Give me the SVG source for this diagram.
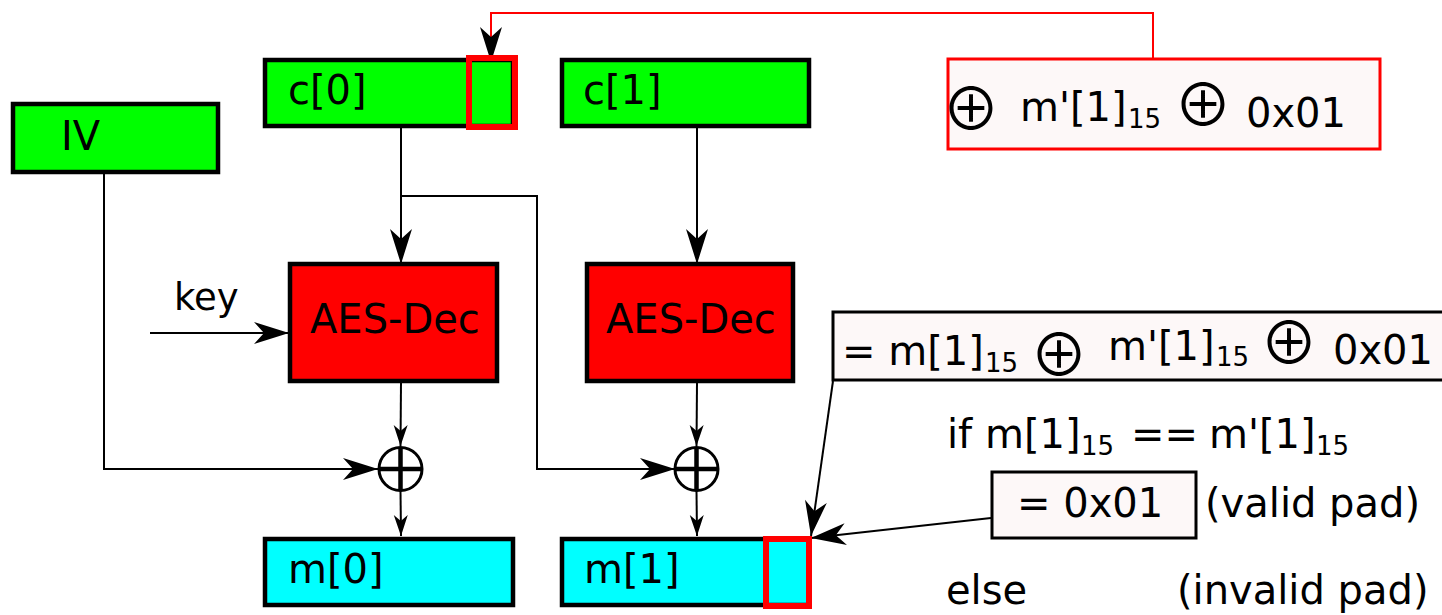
<svg xmlns="http://www.w3.org/2000/svg" width="1442" height="615" viewBox="0 0 1442 615">
  <style>
    text { font-family: "DejaVu Sans", "Liberation Sans", sans-serif; fill: #000; }
    .lbl { font-size: 40px; }
    .sub { font-size: 26px; }
    .op { font-family: "Noto Sans CJK SC", "DejaVu Sans", sans-serif; font-size: 58px; }
    .blk { stroke: #000; stroke-width: 4.5; }
    .green { fill: #00ff00; }
    .cyan { fill: #00ffff; }
    .aes { fill: #ff0000; }
    .mark { fill: none; stroke: #ff0000; stroke-width: 6; }
    .note { fill: #fdf8f8; stroke: #000; stroke-width: 3; }
    .wire { fill: none; stroke: #000; stroke-width: 2; }
    .redwire { fill: none; stroke: #ff0000; stroke-width: 2; }
  </style>
  <defs>
    <marker id="big" markerUnits="userSpaceOnUse" viewBox="-36 -12 38 24" refX="0" refY="0" markerWidth="38" markerHeight="24" orient="auto" overflow="visible">
      <path d="M0,0 L-35,-11 L-25,0 L-35,11 Z" fill="#000"/>
    </marker>
    <marker id="small" markerUnits="userSpaceOnUse" viewBox="-22 -8 24 16" refX="0" refY="0" markerWidth="24" markerHeight="16" orient="auto" overflow="visible">
      <path d="M0,0 L-21,-7 L-15,0 L-21,7 Z" fill="#000"/>
    </marker>
    <g id="xor">
      <circle cx="0" cy="0" r="21.5" fill="#fff" stroke="#000" stroke-width="3"/>
      <path d="M-21,0 H21 M0,-21 V21" stroke="#000" stroke-width="4.5"/>
    </g>
  </defs>

  <!-- connectors -->
  <g id="connectors">
    <polyline class="redwire" points="1153,58 1153,13 491,13 491,40"/>
    <line class="wire" x1="491" y1="40" x2="491" y2="62" marker-end="url(#big)"/>
    <line class="wire" x1="401" y1="128" x2="401" y2="264" marker-end="url(#big)"/>
    <polyline class="wire" points="401,196 537,196 537,469 675,469" marker-end="url(#big)"/>
    <polyline class="wire" points="104,174 104,469 378,469" marker-end="url(#big)"/>
    <line class="wire" x1="150" y1="333" x2="289" y2="333" marker-end="url(#big)"/>
    <line class="wire" x1="697" y1="128" x2="697" y2="264" marker-end="url(#big)"/>
    <line class="wire" x1="401" y1="382" x2="400.5" y2="446" marker-end="url(#small)"/>
    <line class="wire" x1="400.5" y1="491" x2="401" y2="536" marker-end="url(#small)"/>
    <line class="wire" x1="697" y1="382" x2="696.5" y2="446" marker-end="url(#small)"/>
    <line class="wire" x1="696.5" y1="491" x2="697" y2="536" marker-end="url(#small)"/>
    <line class="wire" x1="833" y1="381" x2="811" y2="536" marker-end="url(#big)"/>
    <line class="wire" x1="991" y1="518" x2="811" y2="538" marker-end="url(#big)"/>
  </g>

  <!-- ciphertext / IV blocks -->
  <g id="iv">
    <rect class="green blk" x="13" y="104" width="205" height="68"/>
    <text class="lbl" x="61" y="150">IV</text>
  </g>
  <g id="c0">
    <rect class="green blk" x="265" y="60" width="248" height="66"/>
    <text class="lbl" x="288" y="104">c[0]</text>
    <rect class="mark" x="469" y="58" width="46" height="69"/>
  </g>
  <g id="c1">
    <rect class="green blk" x="562" y="60" width="247" height="66"/>
    <text class="lbl" x="583" y="104">c[1]</text>
  </g>

  <!-- block cipher -->
  <g id="aes0">
    <rect class="aes blk" x="290" y="264" width="207" height="117"/>
    <text class="lbl" x="310" y="333">AES-Dec</text>
  </g>
  <g id="aes1">
    <rect class="aes blk" x="587" y="264" width="206" height="117"/>
    <text class="lbl" x="606" y="333">AES-Dec</text>
  </g>
  <g id="key">
    <text x="174" y="310" style="font-size:37px">key</text>
  </g>

  <!-- xor nodes -->
  <g id="xor0"><use href="#xor" x="400.5" y="469"/></g>
  <g id="xor1"><use href="#xor" x="696.5" y="469"/></g>

  <!-- plaintext blocks -->
  <g id="m0">
    <rect class="cyan blk" x="265" y="539" width="248" height="66"/>
    <text class="lbl" x="288" y="583">m[0]</text>
  </g>
  <g id="m1">
    <rect class="cyan blk" x="562" y="539" width="247" height="66"/>
    <text class="lbl" x="584" y="583">m[1]</text>
    <rect class="mark" x="766" y="539" width="43" height="67"/>
  </g>

  <!-- modification applied to c[0] -->
  <g id="tweak">
    <rect x="948" y="59" width="432" height="90" fill="#fdf8f8" stroke="#ff0000" stroke-width="3"/>
    <text class="op" x="942" y="130">⊕</text>
    <text class="lbl" x="1020" y="121">m'[1]</text>
    <text class="sub" x="1128" y="128">15</text>
    <text class="op" x="1174" y="126">⊕</text>
    <text class="lbl" x="1246" y="127">0x01</text>
  </g>

  <!-- resulting last byte -->
  <g id="result">
    <rect class="note" x="833" y="312" width="620" height="68"/>
    <text class="lbl" x="842" y="365">= m[1]</text>
    <text class="sub" x="985" y="372">15</text>
    <text class="op" x="1030" y="376">⊕</text>
    <text class="lbl" x="1108" y="360">m'[1]</text>
    <text class="sub" x="1216" y="366">15</text>
    <text class="op" x="1260" y="364">⊕</text>
    <text class="lbl" x="1333" y="364">0x01</text>
  </g>

  <!-- padding check -->
  <g id="check">
    <text class="lbl" x="947" y="448">if m[1]</text>
    <text class="sub" x="1081" y="455">15</text>
    <text class="lbl" x="1131" y="448">==</text>
    <text class="lbl" x="1209" y="448">m'[1]</text>
    <text class="sub" x="1316" y="455">15</text>
  </g>
  <g id="valid">
    <rect class="note" x="992" y="472" width="204" height="66"/>
    <text class="lbl" x="1017" y="517">= 0x01</text>
    <text class="lbl" x="1205" y="517">(valid pad)</text>
  </g>
  <g id="invalid">
    <text class="lbl" x="946" y="604">else</text>
    <text class="lbl" x="1177" y="604">(invalid pad)</text>
  </g>
</svg>
